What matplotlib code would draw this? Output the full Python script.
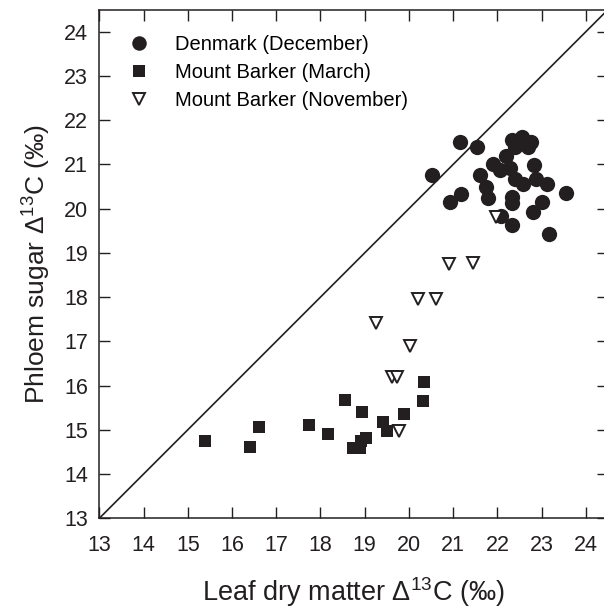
import numpy as np
import matplotlib
matplotlib.use('Agg')
import matplotlib.pyplot as plt

plt.rcParams['font.family'] = ['Liberation Sans', 'DejaVu Sans']
plt.rcParams['mathtext.fontset'] = 'custom'
plt.rcParams['mathtext.rm'] = 'Liberation Sans'
plt.rcParams['mathtext.it'] = 'Liberation Sans'

# Denmark (December)
den_x = [21.15, 21.53, 20.53, 22.32, 22.55, 22.77, 22.39, 22.70, 22.19, 21.89,
         22.06, 22.28, 21.60, 22.83, 22.39, 22.57, 22.88, 23.11, 21.74, 21.79,
         21.17, 20.93, 23.56, 22.33, 22.33, 23.00, 22.81, 22.08, 22.33, 23.17]
den_y = [21.51, 21.40, 20.77, 21.56, 21.62, 21.51, 21.40, 21.40, 21.19, 21.00,
         20.87, 20.91, 20.76, 20.98, 20.68, 20.56, 20.66, 20.55, 20.48, 20.25,
         20.34, 20.15, 20.36, 20.27, 20.12, 20.15, 19.93, 19.83, 19.63, 19.42]

# Mount Barker (March)
mar_x = [15.40, 16.41, 16.60, 17.75, 18.16, 18.55, 18.93, 18.73, 18.89, 18.91,
         19.04, 19.42, 19.50, 19.89, 20.31, 20.35]
mar_y = [14.75, 14.62, 15.07, 15.12, 14.91, 15.67, 15.40, 14.58, 14.58, 14.74,
         14.82, 15.18, 14.98, 15.36, 15.66, 16.09]

# Mount Barker (November)
nov_x = [21.97, 20.91, 21.45, 20.20, 20.62, 19.25, 20.02, 19.61, 19.72, 19.78]
nov_y = [19.82, 18.74, 18.77, 17.96, 17.95, 17.41, 16.90, 16.19, 16.19, 14.98]

ticks = list(range(13, 25))
ink = '#231f20'

fig = plt.figure(figsize=(6.04, 6.09), dpi=100)
ax = fig.add_axes([99.3 / 604, 90.7 / 609, 508.7 / 604, 508.3 / 609])

# 1:1 line
ax.plot([13, 24.5], [13, 24.5], color=ink, lw=1.2, zorder=1)

ax.plot(den_x, den_y, 'o', color=ink, ms=11, mew=0,
        label='Denmark (December)', zorder=3)
ax.plot(mar_x, mar_y, 's', color=ink, ms=8.6, mew=0,
        label='Mount Barker (March)', zorder=3)
ax.plot(nov_x, nov_y, 'v', mfc='white', mec=ink, ms=8.6, mew=1.4,
        label='Mount Barker (November)', zorder=4)

ax.set_xlim(13, 24.5)
ax.set_ylim(13, 24.49)
ax.set_xticks(ticks)
ax.set_yticks(ticks)
ax.tick_params(direction='in', length=7.8, width=1, top=True, right=True,
               labelsize=15.5, colors=ink)
ax.tick_params(axis='x', pad=12)
ax.tick_params(axis='y', pad=8)
for s in ax.spines.values():
    s.set_linewidth(1.1)
    s.set_color(ink)

ax.set_xlabel(r'Leaf dry matter Δ$^{\mathregular{13}}$C (‰)', fontsize=19.5,
              color=ink, labelpad=14)
ax.set_ylabel(r'Phloem sugar Δ$^{\mathregular{13}}$C (‰)', fontsize=19,
              color=ink, labelpad=8)

ax.legend(loc='upper left', frameon=False, fontsize=14.5, handletextpad=0.8,
          labelspacing=0.45, borderaxespad=0.6, markerscale=0.95,
          bbox_to_anchor=(-0.002, 0.99))

fig.savefig('out.png', dpi=100)
